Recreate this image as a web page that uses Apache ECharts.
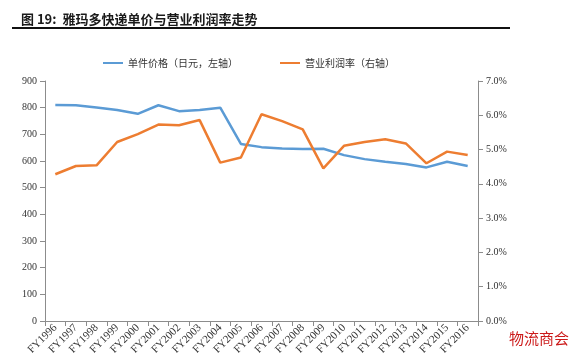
<!DOCTYPE html>
<html>
<head>
<meta charset="utf-8">
<script src="https://cdn.jsdelivr.net/npm/echarts@6/dist/echarts.min.js"></script>
<style>
  html, body { margin: 0; padding: 0; background: #fff; }
  #main { width: 580px; height: 353px; }
</style>
</head>
<body>
<div id="main"></div>
<script>
// 年度
const years = ['FY1996', 'FY1997', 'FY1998', 'FY1999', 'FY2000', 'FY2001', 'FY2002',
  'FY2003', 'FY2004', 'FY2005', 'FY2006', 'FY2007', 'FY2008', 'FY2009', 'FY2010',
  'FY2011', 'FY2012', 'FY2013', 'FY2014', 'FY2015', 'FY2016']
// 单件价格（日元）
const unitPrice = [810, 809, 801, 791, 777, 809, 787, 791, 800, 664, 652, 647, 645,
  646, 622, 607, 597, 589, 576, 597, 581]
// 营业利润率（%）
const opMargin = [4.28, 4.52, 4.54, 5.22, 5.45, 5.73, 5.71, 5.86, 4.62, 4.77, 6.03,
  5.83, 5.59, 4.45, 5.11, 5.22, 5.30, 5.18, 4.60, 4.94, 4.84]

const axisGray = '#8c8c8c'
const labelFont = 'Liberation Serif'

const option = {
  animation: false,
  title: [{
    text: '图 19:  雅玛多快递单价与营业利润率走势',
    left: 16,
    top: 8,
    textStyle: { fontFamily: 'Noto Sans CJK SC', fontWeight: 'bold', fontSize: 13, color: '#1a1a1a' }
  }, {
    text: '物流商会',
    right: 6,
    bottom: 2,
    textStyle: { fontFamily: 'Noto Sans CJK SC', fontWeight: 'normal', fontSize: 15, color: '#cc1a1a' }
  }],
  graphic: [{
    type: 'line',
    shape: { x1: 12, y1: 28, x2: 510, y2: 28 },
    style: { stroke: '#111', lineWidth: 2 }
  }],
  legend: {
    top: 53,
    left: 98,
    itemGap: 42,
    itemWidth: 20,
    itemHeight: 2,
    icon: 'rect',
    textStyle: { fontFamily: 'Noto Sans CJK SC', fontSize: 10, color: '#333' },
    data: ['单件价格（日元，左轴）', '营业利润率（右轴）']
  },
  grid: { left: 45, right: 102, top: 81, bottom: 32, containLabel: false, outerBoundsMode: 'none' },
  xAxis: {
    type: 'category',
    data: years,
    boundaryGap: true,
    axisLine: { lineStyle: { color: axisGray } },
    axisTick: { show: true, alignWithLabel: false, lineStyle: { color: axisGray } },
    axisLabel: { rotate: 45, interval: 0, fontFamily: labelFont, fontSize: 11, color: '#333', margin: 5 }
  },
  yAxis: [{
    type: 'value',
    min: 0,
    max: 900,
    interval: 100,
    position: 'left',
    splitLine: { show: false },
    axisLine: { show: true, lineStyle: { color: axisGray } },
    axisTick: { show: true, lineStyle: { color: axisGray } },
    axisLabel: { fontFamily: labelFont, fontSize: 10, color: '#333' }
  }, {
    type: 'value',
    min: 0,
    max: 7,
    interval: 1,
    position: 'right',
    splitLine: { show: false },
    axisLine: { show: true, lineStyle: { color: axisGray } },
    axisTick: { show: true, lineStyle: { color: axisGray } },
    axisLabel: {
      fontFamily: labelFont, fontSize: 10, color: '#333',
      formatter: (v) => v.toFixed(1) + '%'
    }
  }],
  series: [{
    name: '单件价格（日元，左轴）',
    type: 'line',
    yAxisIndex: 0,
    data: unitPrice,
    showSymbol: false,
    lineStyle: { color: '#5b9bd5', width: 2.5 },
    itemStyle: { color: '#5b9bd5' }
  }, {
    name: '营业利润率（右轴）',
    type: 'line',
    yAxisIndex: 1,
    data: opMargin,
    showSymbol: false,
    lineStyle: { color: '#ed7d31', width: 2.5 },
    itemStyle: { color: '#ed7d31' }
  }]
}

const myChart = echarts.init(document.getElementById('main'))
myChart.setOption(option)
</script>
</body>
</html>
